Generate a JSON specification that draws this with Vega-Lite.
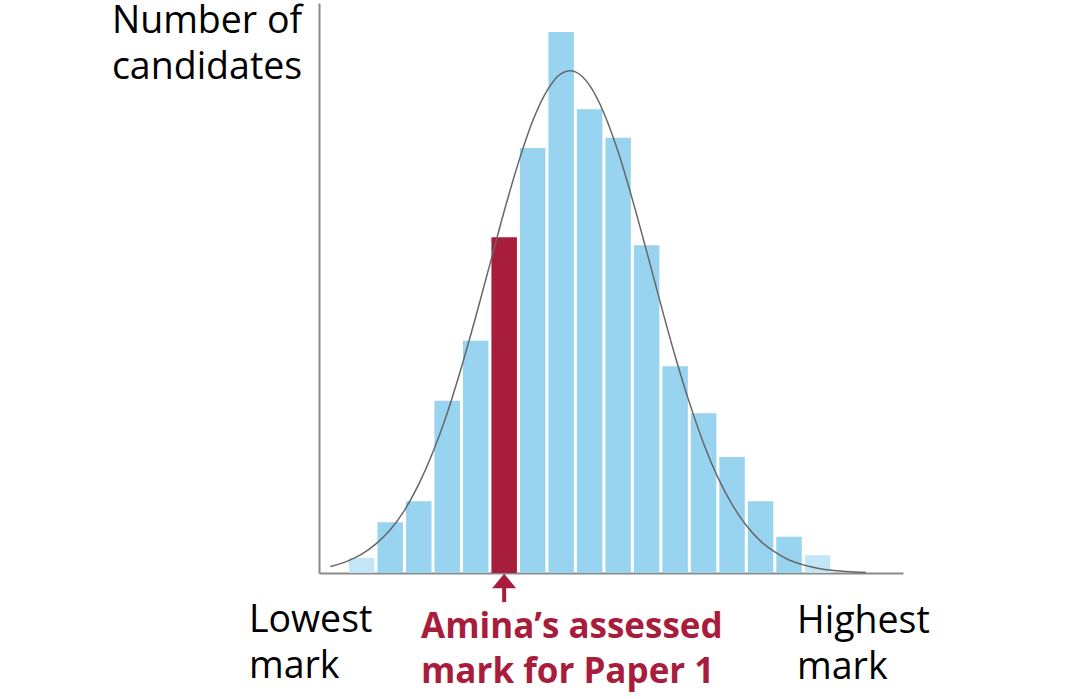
{
  "$schema": "https://vega.github.io/schema/vega-lite/v6.json",
  "width": 584,
  "height": 570,
  "autosize": "none",
  "padding": {"left": 319, "top": 3, "right": 177, "bottom": 126},
  "background": "white",
  "config": {"view": {"stroke": null}, "font": "Open Sans"},
  "datasets": {
    "bars": [
      {"bin": 1.5, "count": 2.8, "type": "edge"},
      {"bin": 2.5, "count": 9.4, "type": "normal"},
      {"bin": 3.5, "count": 13.3, "type": "normal"},
      {"bin": 4.5, "count": 31.9, "type": "normal"},
      {"bin": 5.5, "count": 43.0, "type": "normal"},
      {"bin": 6.5, "count": 62.2, "type": "amina"},
      {"bin": 7.5, "count": 78.7, "type": "normal"},
      {"bin": 8.5, "count": 100.2, "type": "normal"},
      {"bin": 9.5, "count": 85.9, "type": "normal"},
      {"bin": 10.5, "count": 80.6, "type": "normal"},
      {"bin": 11.5, "count": 60.7, "type": "normal"},
      {"bin": 12.5, "count": 38.3, "type": "normal"},
      {"bin": 13.5, "count": 29.6, "type": "normal"},
      {"bin": 14.5, "count": 21.5, "type": "normal"},
      {"bin": 15.5, "count": 13.3, "type": "normal"},
      {"bin": 16.5, "count": 6.7, "type": "normal"},
      {"bin": 17.5, "count": 3.3, "type": "edge"}
    ],
    "curve": [
      {"x": 0.4, "y": 1.2}, {"x": 1, "y": 2.2}, {"x": 1.5, "y": 3.5}, {"x": 2, "y": 5.4},
      {"x": 2.5, "y": 8.0}, {"x": 3, "y": 11.6}, {"x": 3.5, "y": 16.4}, {"x": 4, "y": 22.4},
      {"x": 4.5, "y": 29.6}, {"x": 5, "y": 38.1}, {"x": 5.5, "y": 47.4}, {"x": 6, "y": 57.2},
      {"x": 6.5, "y": 67.0}, {"x": 7, "y": 76.0}, {"x": 7.5, "y": 83.7}, {"x": 8, "y": 89.3},
      {"x": 8.5, "y": 92.5}, {"x": 8.81, "y": 93.0}, {"x": 9, "y": 92.8}, {"x": 9.5, "y": 90.3},
      {"x": 10, "y": 85.2}, {"x": 10.5, "y": 78.0}, {"x": 11, "y": 69.2}, {"x": 11.5, "y": 59.6},
      {"x": 12, "y": 49.7}, {"x": 12.5, "y": 40.2}, {"x": 13, "y": 31.6}, {"x": 13.5, "y": 24.0},
      {"x": 14, "y": 17.7}, {"x": 14.5, "y": 12.7}, {"x": 15, "y": 8.8}, {"x": 15.5, "y": 5.9},
      {"x": 16, "y": 3.9}, {"x": 16.5, "y": 2.4}, {"x": 17, "y": 1.5}, {"x": 17.5, "y": 0.9},
      {"x": 18, "y": 0.5}, {"x": 18.5, "y": 0.3}, {"x": 19.2, "y": 0.1}
    ],
    "labels": [
      {"label": "Number of\ncandidates", "x": -7.27, "y": 100.0},
      {"label": "Lowest\nmark", "x": -2.46, "y": -10.93},
      {"label": "Highest\nmark", "x": 16.78, "y": -11.2}
    ],
    "redlabels": [
      {"label": "Amina’s assessed\nmark for Paper 1", "x": 3.58, "y": -12.04}
    ],
    "arrow": [
      {"x": 6.5, "y1": -2.2, "y2": -5.4, "head": -1.48}
    ]
  },
  "layer": [
    {
      "data": {"name": "bars"},
      "mark": {"type": "bar", "width": 25.5, "clip": false},
      "encoding": {
        "x": {"field": "bin", "type": "quantitative", "scale": {"domain": [0, 20.5], "nice": false, "zero": false, "padding": 0},
              "axis": {"labels": false, "ticks": false, "grid": false, "title": null, "domainColor": "#8a8a8a", "domainWidth": 2}},
        "y": {"field": "count", "type": "quantitative", "scale": {"domain": [0, 105.56], "nice": false, "padding": 0},
              "axis": {"labels": false, "ticks": false, "grid": false, "title": null, "domainColor": "#8a8a8a", "domainWidth": 2}},
        "color": {"field": "type", "type": "nominal", "legend": null,
                  "scale": {"domain": ["normal", "edge", "amina"], "range": ["#98d3f0", "#c3e6f7", "#a81c3c"]}}
      }
    },
    {
      "data": {"name": "curve"},
      "mark": {"type": "line", "color": "#666666", "strokeWidth": 1.5, "interpolate": "monotone", "clip": false},
      "encoding": {
        "x": {"field": "x", "type": "quantitative"},
        "y": {"field": "y", "type": "quantitative"}
      }
    },
    {
      "data": {"name": "arrow"},
      "mark": {"type": "rule", "color": "#a81c3c", "strokeWidth": 4, "clip": false},
      "encoding": {
        "x": {"field": "x", "type": "quantitative"},
        "y": {"field": "y1", "type": "quantitative"},
        "y2": {"field": "y2"}
      }
    },
    {
      "data": {"name": "arrow"},
      "mark": {"type": "point", "shape": "M-1,0.6L1,0.6L0,-0.6Z", "size": 576, "filled": true, "color": "#a81c3c", "opacity": 1, "clip": false},
      "encoding": {
        "x": {"field": "x", "type": "quantitative"},
        "y": {"field": "head", "type": "quantitative"}
      }
    },
    {
      "data": {"name": "labels"},
      "mark": {"type": "text", "align": "left", "baseline": "alphabetic", "lineBreak": "\n", "lineHeight": 45.5, "font": "Open Sans", "fontSize": 37.5, "color": "#000000", "clip": false},
      "encoding": {
        "x": {"field": "x", "type": "quantitative"},
        "y": {"field": "y", "type": "quantitative"},
        "text": {"field": "label"}
      }
    },
    {
      "data": {"name": "redlabels"},
      "mark": {"type": "text", "align": "left", "baseline": "alphabetic", "lineBreak": "\n", "lineHeight": 45, "font": "Open Sans", "fontSize": 35, "fontWeight": "bold", "color": "#a81c3c", "clip": false},
      "encoding": {
        "x": {"field": "x", "type": "quantitative"},
        "y": {"field": "y", "type": "quantitative"},
        "text": {"field": "label"}
      }
    }
  ]
}
